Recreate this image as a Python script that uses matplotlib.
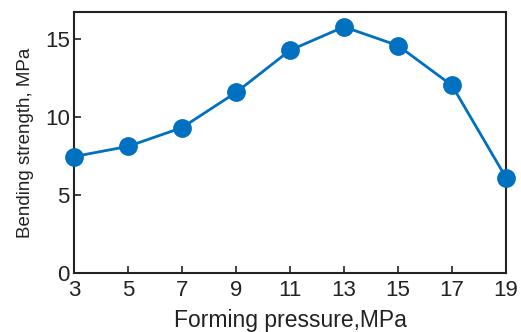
import numpy as np
import matplotlib
matplotlib.use("Agg")
import matplotlib.pyplot as plt

plt.rcParams['font.family'] = ['Liberation Sans', 'DejaVu Sans']

# données
pression = [3, 5, 7, 9, 11, 13, 15, 17, 19]
resistance = [7.45, 8.1, 9.3, 11.55, 14.25, 15.75, 14.55, 12.0, 6.1]
xticks = [3, 5, 7, 9, 11, 13, 15, 17, 19]
yticks = [0, 5, 10, 15]

fig = plt.figure(figsize=(5.21, 3.32), dpi=100)
ax = fig.add_axes([74/521, 1-273/332, (506-74)/521, (273-12)/332])

ax.plot(pression, resistance, color='#0070c0', lw=2.0, marker='o',
        markersize=12.5, clip_on=False, zorder=3)

ax.set_xlim(3, 19)
ax.set_ylim(0, 16.7)
ax.set_xticks(xticks)
ax.set_yticks(yticks)
ax.tick_params(direction='in', length=5, width=1.2, labelsize=16, pad=4,
               colors='#222222')
ax.tick_params(axis='x', pad=5)
ax.tick_params(axis='y', pad=3)
for s in ax.spines.values():
    s.set_linewidth(1.5)
    s.set_color('#222222')

ax.set_xlabel('Forming pressure,MPa', fontsize=16.5, labelpad=6, color='#222222')
ax.set_ylabel('Bending strength, MPa', fontsize=13.5, labelpad=8, color='#222222')

fig.savefig('out.png', dpi=100)
